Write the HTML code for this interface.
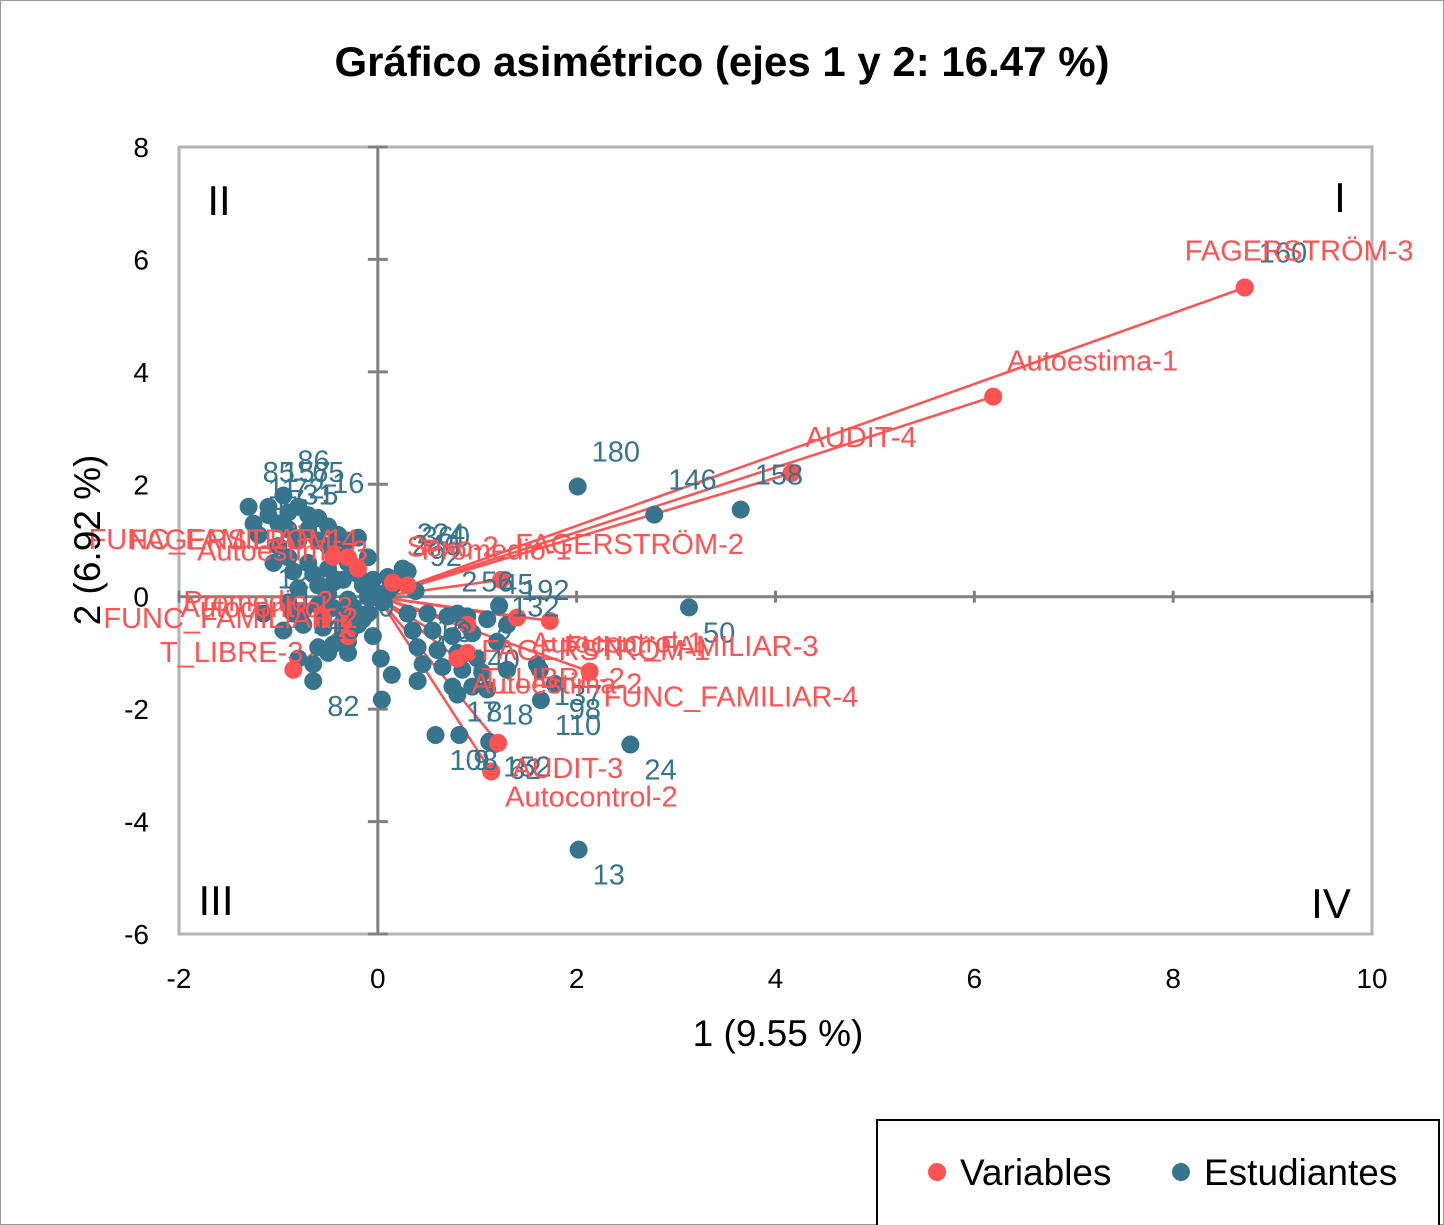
<!DOCTYPE html>
<html><head><meta charset="utf-8"><style>
body{margin:0;background:#fff}
svg{display:block;font-family:"Liberation Sans",sans-serif}
</style></head><body>
<svg id="chart" width="1444" height="1225" viewBox="0 0 1444 1225" xmlns="http://www.w3.org/2000/svg">
<rect x="0.5" y="0.5" width="1443" height="1224" fill="#fff" stroke="#999" stroke-width="1"/>
<text x="722" y="76" text-anchor="middle" font-size="42" font-weight="bold">Gráfico asimétrico (ejes 1 y 2: 16.47 %)</text>
<rect x="179" y="147" width="1193" height="787" fill="none" stroke="#b3b3b3" stroke-width="3"/>
<g id="axes"></g>
<g id="marks"></g>
<text x="778" y="1046" text-anchor="middle" font-size="37">1 (9.55 %)</text>
<text transform="translate(100,540) rotate(-90)" text-anchor="middle" font-size="37">2 (6.92 %)</text>
<text x="1340" y="212" text-anchor="middle" font-size="42">I</text>
<text x="219" y="215" text-anchor="middle" font-size="42">II</text>
<text x="216" y="915" text-anchor="middle" font-size="42">III</text>
<text x="1331" y="918" text-anchor="middle" font-size="42">IV</text>
<g>
<rect x="877" y="1120" width="562" height="110" fill="#fff" stroke="#000" stroke-width="2"/>
<circle cx="937" cy="1172" r="9" fill="#ff5252"/>
<text x="960" y="1185" font-size="37">Variables</text>
<circle cx="1181" cy="1172" r="9" fill="#37758f"/>
<text x="1204" y="1185" font-size="37">Estudiantes</text>
</g>
</svg>
<script>
const xTicks=[-2,0,2,4,6,8,10];
const yTicks=[8,6,4,2,0,-2,-4,-6];
const studX=[-1.3,-1.1,-0.95,-0.8,-0.6,-1.25,-1.2,-1.0,-0.9,-0.7,-0.8,-0.6,-0.5,-0.4,-0.3,-0.2,-1.0,-0.9,-0.7,-0.5,-0.4,-0.2,-0.35,-0.1,-0.15,-0.6,-0.8,-0.5,-0.3,-0.1,-0.05,0.0,0.05,-0.25,-0.45,-0.6,-0.9,-1.15,-0.95,-0.75,-0.55,-0.35,-0.2,-0.05,-0.6,-0.45,-0.3,-0.8,-0.65,-0.65,-0.85,-0.4,-0.2,0.1,0.2,0.25,0.1,0.38,0.3,0.15,0.3,0.5,0.7,0.8,0.9,1.1,1.3,0.35,0.55,0.75,0.95,1.2,0.4,0.6,0.8,1.0,0.45,0.65,0.85,1.05,1.3,1.6,0.4,0.75,0.95,1.1,1.64,1.63,0.8,0.58,0.82,1.12,1.18,0.04,0.03,0.14,1.22,2.01,2.78,3.65,8.72,3.13,2.02,2.54,1.78,-1.1,-0.9,-0.7,-0.5,-0.3,-1.05,-0.85,-0.65,-0.45,-0.25,-0.75,-0.55,-0.35,-0.15,-0.5,-0.3,-0.1];
const studY=[1.6,1.6,1.8,1.6,1.4,1.3,1.1,1.3,1.2,1.2,1.0,1.0,0.9,0.8,0.6,0.4,0.9,0.7,0.6,0.5,1.1,1.05,0.3,0.7,0.2,0.2,0.15,0.05,-0.05,0.0,0.3,0.05,-0.1,-0.2,-0.2,-0.15,-0.1,-0.3,-0.6,-0.5,-0.55,-0.6,-0.5,-0.7,-0.9,-0.85,-0.8,-1.1,-1.2,-1.5,-0.3,0.3,-0.3,0.1,0.3,0.5,0.35,0.1,0.45,0.2,-0.3,-0.3,-0.35,-0.3,-0.35,-0.4,-0.5,-0.6,-0.6,-0.7,-0.65,-0.8,-0.9,-0.95,-1.0,-1.1,-1.2,-1.25,-1.3,-1.35,-1.3,-1.2,-1.5,-1.6,-1.6,-1.65,-1.84,-1.3,-1.74,-2.46,-2.46,-2.58,-2.62,-1.83,-1.1,-1.39,-0.16,1.96,1.46,1.55,5.5,-0.19,-4.5,-2.63,-1.55,1.45,1.5,1.45,1.25,1.0,0.6,0.45,0.4,0.25,0.55,-0.25,-0.35,-0.25,-0.4,-1.0,-1.0,-0.3];
const studLab=["85","157","86","65","16","11","17","72","31","5","","","","","","","","1","","","","","","","","","","","","","","","","","","","","120","1","4","","","","","","26","20","14","13","82","","","","","246","224","","92","360","","","","2","","56","45","192","","","","","132","","","","","16","3","","2","","","4","17","8","18","110","137","140","108","9","152","62","","","","","180","146","158","160","50","13","24","98","","","","","","","","","","","","","","","","",""];
const studPos=["a","a","a","a","a","a","a","a","a","a","a","a","a","a","a","a","a","a","a","a","a","a","a","a","a","a","a","a","a","a","a","a","a","a","a","a","a","a","a","a","a","a","a","a","a","a","a","a","a","b","a","a","a","a","a","a","a","a","a","a","a","a","a","a","a","a","a","a","a","a","a","a","a","a","a","a","a","a","a","a","a","a","a","b","b","b","b","b","a","b","b","b","b","a","a","a","a","a","a","a","a","b","b","b","b","a","a","a","a","a","a","a","a","a","a","a","a","a","a","a","a","a"];
const varX=[8.72,6.19,4.16,1.24,0.15,0.3,1.73,2.13,1.21,1.14,1.4,0.9,0.8,0.9,-0.45,-0.3,-0.2,-0.55,-0.3,-0.85,-0.35];
const varY=[5.5,3.56,2.2,0.3,0.25,0.2,-0.43,-1.33,-2.6,-3.11,-0.37,-0.5,-1.1,-1.0,0.71,0.7,0.5,-0.4,-0.7,-1.3,-0.5];
const varLab=["FAGERSTRÖM-3","Autoestima-1","AUDIT-4","FAGERSTRÖM-2","Sexo-2","Promedio-1","FUNC_FAMILIAR-3","FUNC_FAMILIAR-4","AUDIT-3","Autocontrol-2","Autocontrol-1","FAGERSTRÖM-1","Autoestima-2","T_LIBRE-2","FUNC_FAMILIAR-1","FAGERSTRÖM-4","Autoestima-3","Promedio-2","FUNC_FAMILIAR-2","T_LIBRE-3","Autocontrol-3"];
const varPos=["f","a","a","a","a","a","b","b","b","b","b","b","b","b","l","l","l","l","l","l","l"];
const NS="http://www.w3.org/2000/svg";
const X0=179,X1=1372,Y0=934,Y1=147;
function sx(v){return X0+(v-(-2))/(10-(-2))*(X1-X0);}
function sy(v){return Y0-(v-(-6))/(8-(-6))*(Y0-Y1);}
function mk(tag,attrs,parent){const e=document.createElementNS(NS,tag);for(const k in attrs)e.setAttribute(k,attrs[k]);parent.appendChild(e);return e;}
const axes=document.getElementById('axes');
const marks=document.getElementById('marks');
let l=mk('line',{x1:sx(0),x2:sx(0),y1:Y1,y2:Y0,stroke:'#808080','stroke-width':3},axes);


l=mk('line',{x1:X0,x2:X1,y1:sy(0),y2:sy(0),stroke:'#808080','stroke-width':3},axes);


xTicks.forEach(v=>{
  const t=mk('line',{x1:sx(v),x2:sx(v),y1:sy(0)-6,y2:sy(0)+6,stroke:'#808080','stroke-width':3},axes);
  
  
  const tx=mk('text',{x:sx(v),y:988,'text-anchor':'middle','font-size':28},axes);
  
  
  tx.textContent=v;
});
yTicks.forEach(v=>{
  const t=mk('line',{x1:sx(0)-10,x2:sx(0)+10,y1:sy(v),y2:sy(v),stroke:'#808080','stroke-width':3},axes);
  
  
  const tx=mk('text',{x:149,y:sy(v)+10,'text-anchor':'end','font-size':28},axes);
  
  
  tx.textContent=v;
});
varX.forEach((v,i)=>{
  const ln=mk('line',{x1:sx(0),y1:sy(0),x2:sx(v),y2:sy(varY[i]),stroke:'#ff5252','stroke-width':2.5},marks);
  
  
});
studX.forEach((v,i)=>{
  const c=mk('circle',{cx:sx(v),cy:sy(studY[i]),r:9,fill:'#37758f'},marks);
  
  
});
varX.forEach((v,i)=>{
  const c=mk('circle',{cx:sx(v),cy:sy(varY[i]),r:9,fill:'#ff5252'},marks);
  
  
});
studX.forEach((v,i)=>{
  if(!studLab[i])return;
  const below=studPos[i]==='b';
  const t=mk('text',{x:sx(v)+14,y:sy(studY[i])+(below?35:-25),'font-size':29,fill:'#37758f'},marks);
  
  
  t.textContent=studLab[i];
});
varX.forEach((v,i)=>{
  const p=varPos[i];
  const a={'font-size':29,fill:'#ff5252'};
  const px=sx(v),py=sy(varY[i]);
  if(p==='b'){a.x=px+14;a.y=py+35;}
  else if(p==='l'){a.x=px+10;a.y=py-8;a['text-anchor']='end';}
  else if(p==='f'){a.x=px-60;a.y=py-27;}
  else {a.x=px+14;a.y=py-26;}
  const t=mk('text',a,marks);
  
  
  t.textContent=varLab[i];
});
</script>
</body></html>
